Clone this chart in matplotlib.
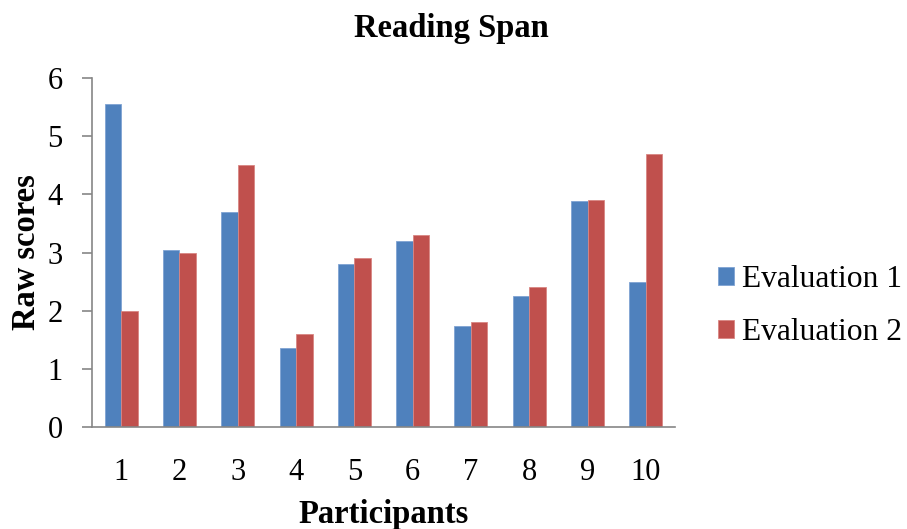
import matplotlib
matplotlib.use("Agg")
import matplotlib.pyplot as plt
import numpy as np

participants = ["1", "2", "3", "4", "5", "6", "7", "8", "9", "10"]
evaluation_1 = [5.55, 3.05, 3.7, 1.35, 2.8, 3.2, 1.73, 2.25, 3.88, 2.5]
evaluation_2 = [2.0, 3.0, 4.5, 1.6, 2.9, 3.3, 1.8, 2.4, 3.9, 4.7]
series_names = ["Evaluation 1", "Evaluation 2"]
y_ticks = [0, 1, 2, 3, 4, 5, 6]

plt.rcParams["font.family"] = ["Liberation Serif", "DejaVu Serif"]

fig = plt.figure(figsize=(9.07, 5.29), dpi=100)
ax = fig.add_axes([92 / 907, 1 - 427 / 529, (675 - 92) / 907, (427 - 78) / 529])

x = np.arange(1, len(participants) + 1)
w = 0.283
blue = "#4F81BD"
red = "#C0504D"
ax.bar(x - w / 2, evaluation_1, width=w, color=blue, edgecolor="#7FA3D3",
       linewidth=0.6, label=series_names[0])
ax.bar(x + w / 2, evaluation_2, width=w, color=red, edgecolor="#D98683",
       linewidth=0.6, label=series_names[1])

ax.set_xlim(0.5, 10.5)
ax.set_ylim(0, 6)
ax.set_yticks(y_ticks)
ax.set_xticks(x)
ax.set_xticklabels(participants)

axis_grey = "#868686"
for side in ("top", "right"):
    ax.spines[side].set_visible(False)
for side in ("left", "bottom"):
    ax.spines[side].set_color(axis_grey)
    ax.spines[side].set_linewidth(1.2)

ax.tick_params(axis="y", direction="out", length=7, width=1.2, color=axis_grey,
               labelsize=22, pad=14)
ax.tick_params(axis="x", length=0, labelsize=22, pad=22)

ax.set_xlabel("Participants", fontsize=23.5, fontweight="bold", labelpad=9)
ax.set_ylabel("Raw scores", fontsize=23.5, fontweight="bold", labelpad=4)

fig.text(451 / 907, 1 - 28 / 529, "Reading Span", ha="center", va="center",
         fontsize=23.5, fontweight="bold")

leg = fig.legend(handles=ax.patches[:1] + ax.patches[10:11],
                 labels=series_names,
                 loc="center left", bbox_to_anchor=(718 / 907, 1 - 306 / 529),
                 frameon=False, fontsize=22.7, handlelength=0.51,
                 handleheight=0.51, handletextpad=0.25, labelspacing=0.75,
                 borderpad=0, borderaxespad=0)

fig.savefig("out.png", dpi=100)
